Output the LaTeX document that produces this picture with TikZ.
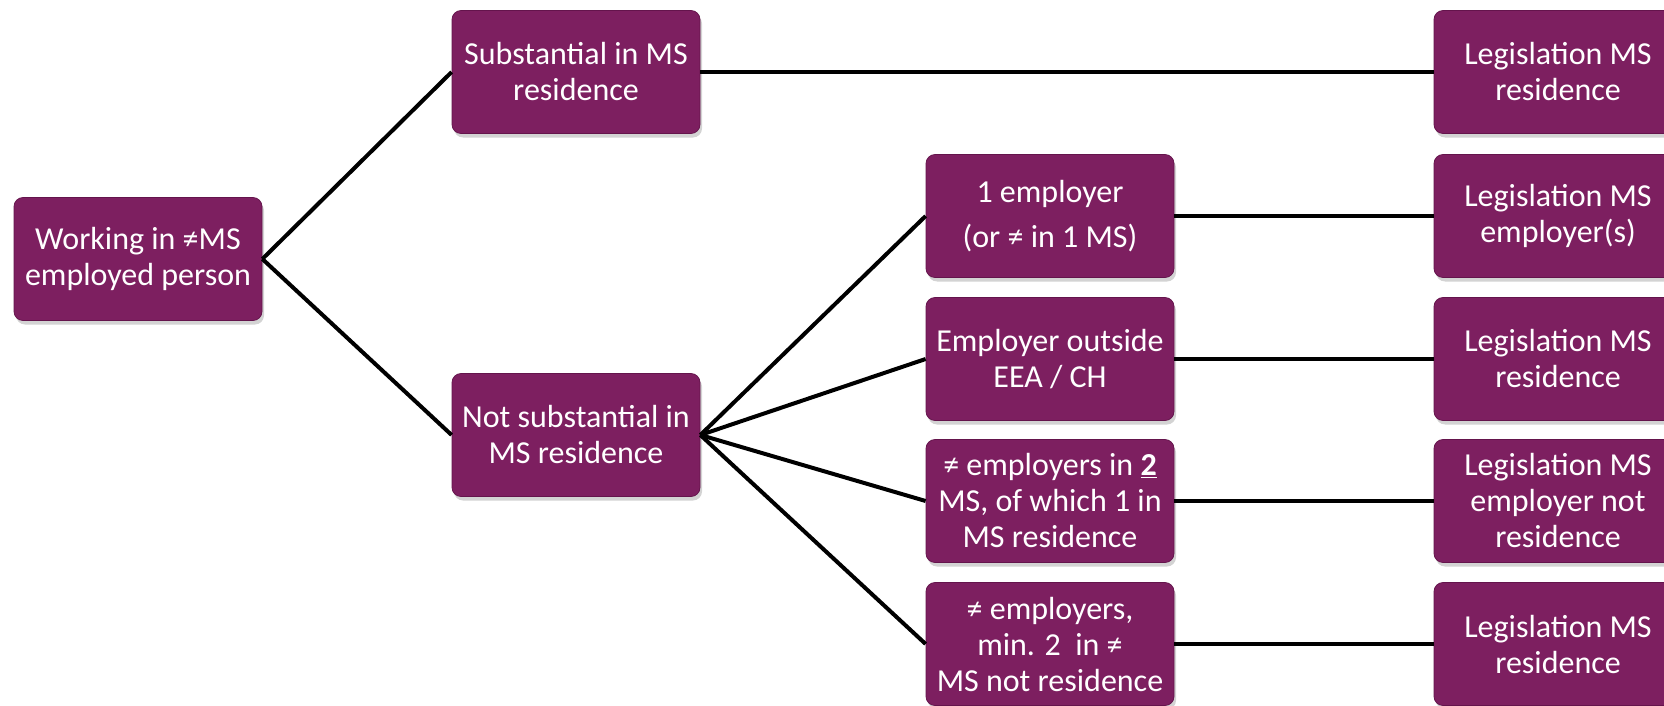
\documentclass[tikz,border=0pt]{standalone}
\usepackage{fontspec}
\setmainfont{Carlito}
\usetikzlibrary{shadows}

\definecolor{plum}{RGB}{125,31,96}
\definecolor{plumedge}{RGB}{100,20,76}

\tikzset{every picture/.style={line width=0.75pt}}
\tikzset{
  box/.style={draw=plumedge, fill=plum, rounded corners=9pt, minimum width=248, minimum height=123,
    inner sep=0pt, align=center, text=white, font=\fontsize{32}{36}\selectfont,
    drop shadow={opacity=0.35, shadow xshift=2pt, shadow yshift=-4pt}},
  link/.style={line width=4pt, black}
}

\begin{document}
\begin{tikzpicture}[x=1pt,y=1pt,yscale=-1,xscale=1]
	\useasboundingbox (0,0) rectangle (1664,706);
	\clip (0,0) rectangle (1664,706);

	% left column
	\node[box] (work) at (138,259) {Working in ≠MS\\employed person};

	% second column
	\node[box] (subst) at (576,72) {Substantial in MS\\residence};
	\node[box] (notsubst) at (576,435) {Not substantial in\\MS residence};

	% third column
	\node[box] (oneemp) at (1050,216) {1 employer\\[9pt](or ≠ in 1 MS)};
	\node[box] (outside) at (1050,359) {Employer outside\\EEA / CH};
	\node[box] (twoms) at (1050,501) {≠ employers in \textbf{\underline{2}}\\MS, of which 1 in\\MS residence};
	\node[box] (minms) at (1050,644) {≠ employers,\\min. 2~ in ≠\\MS not residence};

	% right column
	\node[box] (legres) at (1558,72) {Legislation MS\\residence};
	\node[box] (legemp) at (1558,216) {Legislation MS\\employer(s)};
	\node[box] (legout) at (1558,359) {Legislation MS\\residence};
	\node[box] (legnot) at (1558,501) {Legislation MS\\employer not\\residence};
	\node[box] (legmin) at (1558,644) {Legislation MS\\residence};

	% connectors
	\draw[link] (work.east) -- (subst.west);
	\draw[link] (work.east) -- (notsubst.west);
	\draw[link] (subst.east) -- (legres.west);
	\foreach \n in {oneemp,outside,twoms,minms}
		\draw[link] (notsubst.east) -- (\n.west);
	\draw[link] (oneemp.east) -- (legemp.west);
	\draw[link] (outside.east) -- (legout.west);
	\draw[link] (twoms.east) -- (legnot.west);
	\draw[link] (minms.east) -- (legmin.west);

\end{tikzpicture}
\end{document}
